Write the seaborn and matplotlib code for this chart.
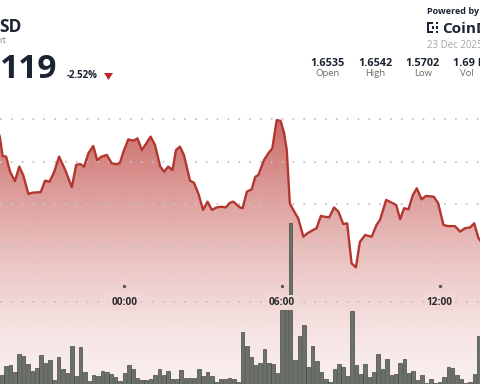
import numpy as np
import matplotlib
matplotlib.use("Agg")
import matplotlib.pyplot as plt
import seaborn as sns
from matplotlib.patches import Polygon, Rectangle

# ---------------- data ----------------
# price line: minutes relative to 23 Dec 00:00, price in USD
line_minutes = [-291, -284, -278, -270, -261, -250, -240, -231, -219, -211, -191, -181,
                -171, -161, -149, -135, -120, -110, -101, -92, -82, -71, -62, -52, -40,
                -29, -17, -10, -2, 9, 21, 30, 40, 51, 60, 70, 82, 91, 100, 110, 118, 127,
                136, 150, 159, 169, 180, 190, 200, 211, 222, 232, 241, 249, 264, 270, 280,
                291, 299, 306, 319, 329, 338, 348, 357, 365, 371, 378, 386, 397, 409, 418,
                428, 439, 449, 458, 468, 479, 489, 500, 509, 519, 529, 538, 550, 565, 576,
                584, 598, 614, 621, 630, 639, 649, 659, 668, 679, 689, 707, 717, 729, 740,
                755, 767, 778, 790, 799, 809, 812, 822]
line_price = [1.6567, 1.6511, 1.6426, 1.6423, 1.6352, 1.6308, 1.6376, 1.6336, 1.6247,
              1.6253, 1.6256, 1.6310, 1.6305, 1.6347, 1.6423, 1.6360, 1.6279, 1.6384,
              1.6388, 1.6376, 1.6439, 1.6473, 1.6407, 1.6423, 1.6431, 1.6392, 1.6387,
              1.6394, 1.6446, 1.6504, 1.6498, 1.6509, 1.6454, 1.6488, 1.6517, 1.6478,
              1.6376, 1.6352, 1.6376, 1.6360, 1.6454, 1.6470, 1.6431, 1.6310, 1.6300,
              1.6250, 1.6172, 1.6211, 1.6172, 1.6184, 1.6187, 1.6184, 1.6206, 1.6211,
              1.6184, 1.6180, 1.6258, 1.6269, 1.6328, 1.6336, 1.6407, 1.6439, 1.6462,
              1.6595, 1.6591, 1.6533, 1.6454, 1.6203, 1.6172, 1.6133, 1.6046, 1.6062,
              1.6074, 1.6086, 1.6144, 1.6140, 1.6137, 1.6184, 1.6164, 1.6106, 1.6109,
              1.5921, 1.5902, 1.6021, 1.6054, 1.6046, 1.6101, 1.6125, 1.6219, 1.6203,
              1.6195, 1.6128, 1.6180, 1.6175, 1.6242, 1.6274, 1.6222, 1.6238, 1.6234,
              1.6203, 1.6101, 1.6096, 1.6096, 1.6070, 1.6086, 1.6090, 1.6109, 1.6039,
              1.6031, 1.6002]

# volume bars: 10-minute candles starting 22 Dec 19:20 (-280 min)
bar_start_minute = -280
bar_step_minutes = 10
bar_volume = [12, 21, 22, 15, 33, 31, 23, 16, 19, 32, 24, 27, 7, 30, 18, 14, 41, 11, 40,
              15, 6, 12, 11, 16, 15, 13, 10, 6, 14, 22, 18, 9, 7, 7, 8, 12, 18, 12,
              16, 8, 8, 17, 9, 9, 9, 18, 11, 15, 11, 5, 8, 8, 9, 8, 5,
              55, 41, 30, 22, 24, 38, 24, 23, 14, 77, 81, 164, 27, 51, 62, 20, 41, 26,
              15, 8, 5, 18, 23, 20, 11, 76, 22, 13, 23, 10, 15, 33, 18, 28, 12, 13, 24,
              28, 14, 16, 7, 12, 4, 8, 4, 5, 10, 20, 19, 12, 8, 4, 5, 13, 51]
bar_minutes = [bar_start_minute + bar_step_minutes * i for i in range(len(bar_volume))]

grid_prices = [1.66, 1.64, 1.62, 1.60]
tick_minutes = [0, 360, 720]
tick_labels = ["00:00", "06:00", "12:00"]

stat_values = ["1.6535", "1.6542", "1.5702", "1.69 M"]
stat_labels = ["Open", "High", "Low", "Vol"]

# ---------------- styling ----------------
W, H = 480, 384
sns.set_theme(style="white")
plt.rcParams['font.family'] = ['Open Sans', 'DejaVu Sans']

fig = plt.figure(figsize=(W / 100, H / 100), dpi=100)
fig.patch.set_facecolor("white")

ax = fig.add_axes([0, 0, 1, 1])
x_left, x_right = -284, 812.4
y_bottom, y_top = 1.5353, 1.7160

fill_rgb = np.array([190, 70, 65]) / 255.0
line_color = "#b3362f"


def grad_alpha(py):
    frac = np.clip((H - py) / 264.0, 0, None)
    return np.clip(0.09 + 0.72 * frac ** 1.5, 0, 0.85)


rows = np.arange(H) + 0.5
img = np.zeros((H, 1, 4))
img[..., :3] = fill_rgb
img[..., 3] = grad_alpha(rows)[:, None]
im = ax.imshow(img, extent=[x_left, x_right, y_bottom, y_top], aspect="auto",
               origin="upper", zorder=1, interpolation="bilinear")
verts = list(zip(line_minutes, line_price)) + [(line_minutes[-1], y_bottom),
                                                (line_minutes[0], y_bottom)]
clip_poly = Polygon(verts, closed=True, transform=ax.transData, facecolor="none",
                    edgecolor="none")
ax.add_patch(clip_poly)
im.set_clip_path(clip_poly)

for gp in grid_prices:
    ax.axhline(gp, color="#c4c4c4", lw=1.3, ls=(0, (1, 5)), zorder=2)

# dotted baseline through the time labels
label_row = 1 - 302 / H
ax.plot([0, 1], [label_row, label_row], transform=ax.transAxes, color="#c4c4c4",
        lw=1.3, ls=(0, (1, 5)), zorder=2)

sns.lineplot(x=line_minutes, y=line_price, ax=ax, color=line_color, linewidth=1.7,
             zorder=4)

ax.set_xlim(x_left, x_right)
ax.set_ylim(y_bottom, y_top)
ax.set_axis_off()

# volume
ax2 = ax.twinx()
sns.barplot(x=bar_minutes, y=bar_volume, native_scale=True, ax=ax2, color="#6b706b",
            edgecolor="#444944", linewidth=0.5, errorbar=None, width=0.82,
            saturation=1)
ax2.set_ylim(3, 387)
ax2.set_xlim(x_left, x_right)
ax2.set_axis_off()

# time ticks and labels
ax2.plot(tick_minutes, [1 - 286 / H] * len(tick_minutes),
         transform=ax2.get_xaxis_transform(), ls="none", marker="o", ms=1.4,
         color="#555555", zorder=5)
a = float(grad_alpha(np.array([302.0]))[0])
bg = tuple(1 - a * (1 - fill_rgb))
for m, lab in zip(tick_minutes, tick_labels):
    ax2.text(m, 1 - 305 / H, lab, transform=ax2.get_xaxis_transform(), ha="center",
             va="baseline", fontsize=7.3, fontweight="bold", color="#2a2a2a",
             bbox=dict(boxstyle="square,pad=0.2", fc=bg, ec="none"), zorder=6)


# ---------------- header ----------------
def fx(px):
    return px / W


def fy(py):
    return 1 - py / H


dark = "#1c2433"
fig.text(fx(-1), fy(31.5), "SD", fontsize=12.5, fontweight="bold", color=dark,
         ha="left", va="baseline")
fig.text(fx(-1), fy(43), "rt", fontsize=6.5, color="#8a8a8a", ha="left", va="baseline")
fig.text(fx(0), fy(78.5), "119", fontsize=24, fontweight="bold", color=dark,
         ha="left", va="baseline")
fig.text(fx(67), fy(78), "-2.52%", fontsize=7, fontweight="bold", color=dark,
         ha="left", va="baseline")
fig.patches.append(Polygon([(fx(104), fy(73)), (fx(113), fy(73)), (fx(108.5), fy(80))],
                           closed=True, transform=fig.transFigure, facecolor="#c0282d",
                           edgecolor="none"))

fig.text(fx(427), fy(13.5), "Powered by", fontsize=6.5, fontweight="bold", color=dark,
         ha="left", va="baseline")
# CoinDesk mark
for (x0, y0, w, h) in [(427, 22, 2.2, 11), (427, 22, 6, 2.2), (427, 30.8, 6, 2.2),
                       (431.5, 26.5, 2, 2), (435.5, 22, 2, 2), (435.5, 26.5, 2, 2),
                       (435.5, 31, 2, 2)]:
    fig.patches.append(Rectangle((fx(x0), fy(y0 + h)), w / W, h / H,
                                 transform=fig.transFigure, facecolor=dark,
                                 edgecolor="none"))
fig.text(fx(442), fy(33), "CoinD", fontsize=11, fontweight="bold", color=dark,
         ha="left", va="baseline")
fig.text(fx(427), fy(48.5), "23 Dec 2025", fontsize=7, color="#a5a5a5",
         ha="left", va="baseline")

stat_centers = [327.7, 375.3, 422.7, 467.3]
for i, (v, lab, cx) in enumerate(zip(stat_values, stat_labels, stat_centers)):
    if i < 3:
        fig.text(fx(cx), fy(65.5), v, fontsize=7.8, fontweight="bold", color=dark,
                 ha="center", va="baseline")
    else:
        fig.text(fx(453), fy(65.5), v, fontsize=7.8, fontweight="bold", color=dark,
                 ha="left", va="baseline")
    fig.text(fx(cx), fy(76.5), lab, fontsize=6.8, color="#6b6b6b", ha="center",
             va="baseline")

fig.savefig("out.png", dpi=100)
